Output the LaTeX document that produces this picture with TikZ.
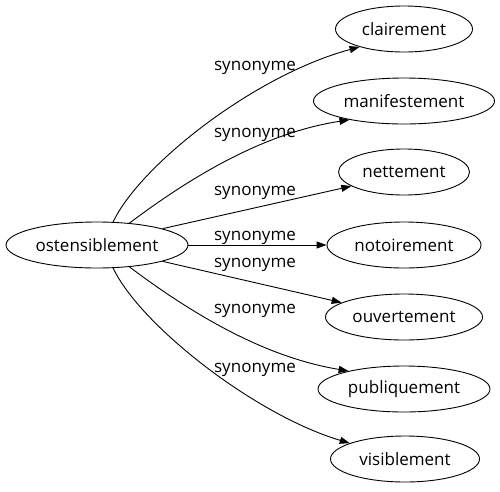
\documentclass[tikz,border=0pt]{standalone}
\usepackage{fontspec}
\setmainfont{Open Sans}
\usetikzlibrary{arrows.meta,shapes.geometric}
\begin{document}
\begin{tikzpicture}[x=1pt,y=-1pt,
  word/.style={draw,ellipse,line width=0.9pt,inner sep=0pt,minimum height=46pt,font=\fontsize{17}{20}\selectfont},
  syn/.style={-{Triangle[length=10pt,width=7pt]},line width=0.9pt},
  lab/.style={font=\fontsize{17}{20}\selectfont,inner sep=0pt,anchor=base}]
\useasboundingbox (0,0) rectangle (500,491);
\node[word,minimum width=182pt] (c) at (97,245) {ostensiblement};
\node[word,minimum width=137pt] (n1) at (404,29) {clairement};
\node[word,minimum width=181pt] (n2) at (404,101) {manifestement};
\node[word,minimum width=131pt] (n3) at (404,172) {nettement};
\node[word,minimum width=154pt] (n4) at (404,245) {notoirement};
\node[word,minimum width=157pt] (n5) at (404,317) {ouvertement};
\node[word,minimum width=172pt] (n6) at (404,389) {publiquement};
\node[word,minimum width=149pt] (n7) at (405,459) {visiblement};
\draw[syn] (c.55) .. controls (140,165) and (255,75) .. (n1.202);
\draw[syn] (c.34) .. controls (200,170) and (270,132) .. (n2.199);
\draw[syn] (c.14) -- (n3.195);
\draw[syn] (c) -- (n4);
\draw[syn] (c.-14) -- (n5.167);
\draw[syn] (c.-34) .. controls (200,320) and (270,358) .. (n6.162);
\draw[syn] (c.-55) .. controls (140,325) and (255,415) .. (n7.164);
\node[lab] (l1) at (255,70) {synonyme};
\node[lab] (l2) at (255,137) {synonyme};
\node[lab] (l3) at (255,195) {synonyme};
\node[lab] (l4) at (255,240) {synonyme};
\node[lab] (l5) at (255,267) {synonyme};
\node[lab] (l6) at (255,313) {synonyme};
\node[lab] (l7) at (255,372) {synonyme};
\end{tikzpicture}
\end{document}
